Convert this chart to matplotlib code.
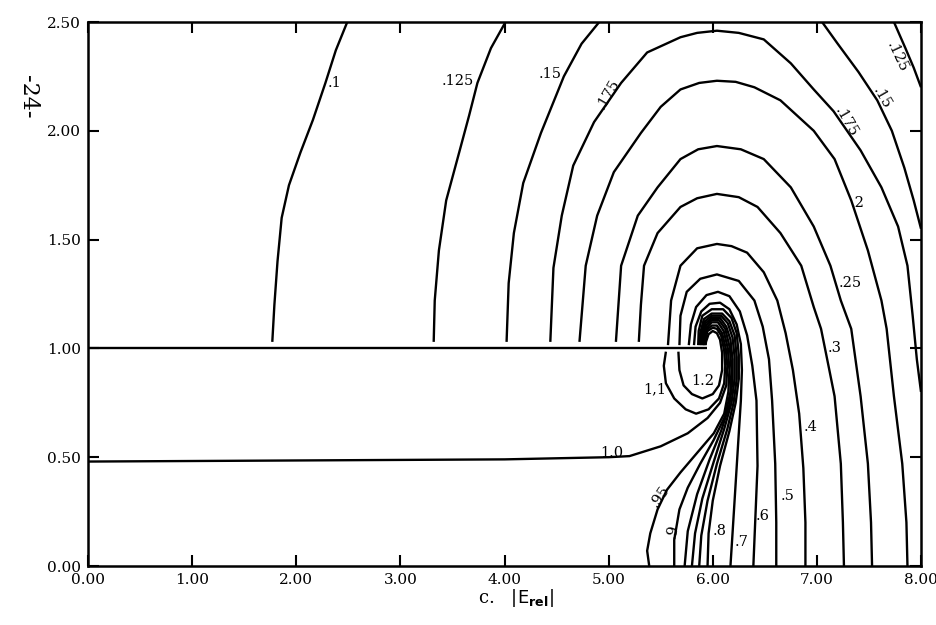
import matplotlib
matplotlib.use("Agg")
import matplotlib.pyplot as plt

# ---------------- data (x, y) ----------------
plate = [(0.0, 1.0), (5.94, 1.0)]

c_0100 = [(1.77, 1.03), (1.79, 1.2), (1.82, 1.4), (1.86, 1.6), (1.93, 1.75), (2.04, 1.9),
          (2.16, 2.05), (2.28, 2.22), (2.38, 2.37), (2.49, 2.5)]
c_0125_left = [(3.32, 1.03), (3.33, 1.22), (3.37, 1.45), (3.44, 1.68), (3.57, 1.91), (3.66, 2.07),
               (3.74, 2.22), (3.87, 2.38), (4.01, 2.5)]
c_0125_right = [(7.74, 2.5), (7.85, 2.38), (7.93, 2.29), (8.0, 2.2)]
c_0150_left = [(4.02, 1.03), (4.04, 1.3), (4.09, 1.53), (4.18, 1.76), (4.35, 1.99), (4.57, 2.25),
               (4.74, 2.4), (4.91, 2.5)]
c_0150_right = [(7.05, 2.5), (7.2, 2.4), (7.4, 2.27), (7.58, 2.14), (7.72, 2.0), (7.84, 1.83),
                (7.93, 1.68), (8.0, 1.55)]
c_0175 = [(4.44, 1.03), (4.47, 1.37), (4.55, 1.61), (4.66, 1.84), (4.86, 2.04), (5.12, 2.22),
          (5.37, 2.36), (5.69, 2.43), (5.85, 2.45), (6.04, 2.46), (6.25, 2.45), (6.49, 2.42),
          (6.75, 2.31), (6.97, 2.19), (7.16, 2.09), (7.42, 1.91), (7.62, 1.74), (7.78, 1.56),
          (7.87, 1.38), (7.92, 1.15), (7.96, 0.95), (8.0, 0.80)]
c_0200 = [(4.72, 1.03), (4.78, 1.38), (4.89, 1.61), (5.05, 1.81), (5.31, 1.99), (5.5, 2.11),
          (5.69, 2.19), (5.87, 2.22), (6.04, 2.23), (6.22, 2.225), (6.4, 2.2), (6.65, 2.14),
          (6.97, 2.0), (7.17, 1.87), (7.33, 1.68), (7.49, 1.45), (7.62, 1.22), (7.67, 1.09),
          (7.74, 0.78), (7.82, 0.47), (7.86, 0.2), (7.87, 0.0)]
c_0250 = [(5.07, 1.03), (5.12, 1.38), (5.28, 1.61), (5.47, 1.74), (5.69, 1.87), (5.86, 1.915),
          (6.04, 1.93), (6.27, 1.915), (6.49, 1.87), (6.75, 1.74), (6.97, 1.56), (7.13, 1.38),
          (7.23, 1.22), (7.33, 1.09), (7.42, 0.78), (7.49, 0.47), (7.52, 0.2), (7.53, 0.0)]
c_0300 = [(5.29, 1.03), (5.31, 1.2), (5.34, 1.38), (5.47, 1.53), (5.69, 1.65), (5.85, 1.69),
          (6.04, 1.71), (6.25, 1.695), (6.43, 1.65), (6.65, 1.53), (6.85, 1.38), (6.97, 1.19),
          (7.04, 1.09), (7.12, 0.9), (7.17, 0.78), (7.23, 0.47), (7.25, 0.2), (7.26, 0.0)]
c_0400 = [(5.57, 1.015), (5.6, 1.22), (5.69, 1.38), (5.85, 1.46), (6.04, 1.48), (6.18, 1.47),
          (6.33, 1.44), (6.49, 1.35), (6.62, 1.22), (6.7, 1.07), (6.77, 0.9), (6.83, 0.7),
          (6.87, 0.45), (6.89, 0.2), (6.89, 0.0)]
c_0500 = [(5.68, 1.015), (5.69, 1.15), (5.75, 1.26), (5.88, 1.32), (6.04, 1.34), (6.25, 1.31),
          (6.4, 1.22), (6.48, 1.1), (6.54, 0.95), (6.57, 0.76), (6.6, 0.47), (6.61, 0.2), (6.61, 0.0)]
c_0600 = [(5.77, 1.015), (5.79, 1.11), (5.84, 1.19), (5.94, 1.245), (6.05, 1.26), (6.16, 1.24),
          (6.26, 1.17), (6.33, 1.06), (6.38, 0.92), (6.42, 0.76), (6.43, 0.46), (6.41, 0.23), (6.39, 0.0)]
c_0700 = [(5.82, 1.015), (5.835, 1.1), (5.89, 1.17), (5.97, 1.205), (6.07, 1.21), (6.16, 1.18),
          (6.23, 1.11), (6.27, 1.02), (6.28, 0.9), (6.27, 0.76), (6.25, 0.61), (6.22, 0.38),
          (6.19, 0.15), (6.17, 0.0)]
c_0800 = [(5.86, 1.015), (5.865, 1.08), (5.9, 1.15), (5.99, 1.18), (6.1, 1.18), (6.18, 1.14),
          (6.23, 1.07), (6.25, 0.97), (6.25, 0.86), (6.22, 0.75), (6.16, 0.62), (6.07, 0.46),
          (6.0, 0.30), (5.96, 0.15), (5.95, 0.0)]
c_0825 = [(5.875, 1.015), (5.88, 1.07), (5.915, 1.135), (5.99, 1.16), (6.09, 1.16), (6.16, 1.125),
          (6.21, 1.06), (6.23, 0.96), (6.23, 0.86), (6.2, 0.75), (6.14, 0.63), (6.04, 0.47),
          (5.95, 0.30), (5.89, 0.14), (5.87, 0.0)]
c_0850 = [(5.885, 1.015), (5.89, 1.065), (5.925, 1.125), (5.99, 1.15), (6.08, 1.15), (6.145, 1.115),
          (6.19, 1.05), (6.21, 0.96), (6.21, 0.86), (6.18, 0.75), (6.11, 0.63), (6.01, 0.48),
          (5.9, 0.31), (5.83, 0.15), (5.80, 0.0)]
c_0875 = [(5.895, 1.015), (5.9, 1.06), (5.93, 1.115), (5.99, 1.14), (6.07, 1.14), (6.13, 1.10),
          (6.17, 1.04), (6.19, 0.95), (6.19, 0.85), (6.16, 0.74), (6.08, 0.62), (5.97, 0.49),
          (5.85, 0.33), (5.76, 0.16), (5.73, 0.0)]
c_0900 = [(5.905, 1.015), (5.91, 1.055), (5.935, 1.105), (5.99, 1.13), (6.06, 1.13), (6.12, 1.09),
          (6.165, 1.0), (6.18, 0.9), (6.17, 0.8), (6.12, 0.69), (6.01, 0.58), (5.88, 0.47),
          (5.76, 0.36), (5.68, 0.26), (5.63, 0.12), (5.63, 0.0)]
c_0950 = [(5.912, 1.015), (5.915, 1.05), (5.94, 1.095), (5.99, 1.12), (6.05, 1.12), (6.105, 1.08),
          (6.145, 1.0), (6.16, 0.9), (6.15, 0.8), (6.11, 0.7), (6.01, 0.61), (5.85, 0.52),
          (5.69, 0.43), (5.56, 0.35), (5.47, 0.26), (5.40, 0.15), (5.37, 0.07), (5.39, 0.0)]
c_1000 = [(0.0, 0.48), (2.0, 0.485), (4.0, 0.49), (5.0, 0.50), (5.2, 0.505), (5.5, 0.55),
          (5.76, 0.61), (5.95, 0.68), (6.07, 0.75), (6.13, 0.83), (6.14, 0.92), (6.125, 1.0),
          (6.09, 1.07), (6.04, 1.105), (5.99, 1.105), (5.94, 1.085), (5.918, 1.045), (5.918, 1.015)]
c_1100 = [(5.55, 0.985), (5.53, 0.92), (5.55, 0.84), (5.63, 0.77), (5.74, 0.72), (5.84, 0.70),
          (5.96, 0.72), (6.06, 0.77), (6.11, 0.84), (6.12, 0.92), (6.11, 0.99), (6.08, 1.06),
          (6.04, 1.09), (6.0, 1.095), (5.95, 1.08), (5.928, 1.04), (5.925, 1.015)]
c_1200 = [(5.67, 0.985), (5.68, 0.9), (5.72, 0.83), (5.8, 0.79), (5.9, 0.77), (6.0, 0.79),
          (6.06, 0.83), (6.09, 0.9), (6.09, 0.98), (6.07, 1.04), (6.04, 1.07), (6.0, 1.08),
          (5.96, 1.065), (5.935, 1.03), (5.932, 1.015)]

contours = [plate, c_0100, c_0125_left, c_0125_right, c_0150_left, c_0150_right, c_0175,
            c_0200, c_0250, c_0300, c_0400, c_0500, c_0600, c_0700, c_0800, c_0825,
            c_0850, c_0875, c_0900, c_0950, c_1000, c_1100, c_1200]

label_text = ['.1', '.125', '.15', '.175', '.175', '.15', '.125', '.2', '.25', '.3', '.4',
              '.5', '.6', '.7', '.8', '.9', '.95', '1.0', '1,1', '1.2']
label_x = [2.37, 3.55, 4.44, 5.00, 7.28, 7.62, 7.77, 7.39, 7.32, 7.17, 6.94,
           6.72, 6.48, 6.28, 6.07, 5.61, 5.49, 5.03, 5.44, 5.90]
label_y = [2.22, 2.23, 2.26, 2.17, 2.04, 2.15, 2.34, 1.67, 1.30, 1.00, 0.64,
           0.32, 0.23, 0.11, 0.16, 0.16, 0.32, 0.52, 0.81, 0.85]
label_rot = [0, 0, 0, 60, -60, -60, -65, 0, 0, 0, 0,
             0, 0, 0, 0, 75, 55, 0, 0, 0]

x_ticks = [0, 1, 2, 3, 4, 5, 6, 7, 8]
y_ticks = [0.0, 0.5, 1.0, 1.5, 2.0, 2.5]

# ---------------- figure ----------------
serif = ['DejaVu Serif']
fig = plt.figure(figsize=(9.36, 6.25), dpi=100)
ax = fig.add_axes([88 / 936, 59 / 625, 833 / 936, 544 / 625])
ax.set_xlim(0, 8)
ax.set_ylim(0, 2.5)

for seg in contours:
    xs = [p[0] for p in seg]
    ys = [p[1] for p in seg]
    ax.plot(xs, ys, color='black', lw=1.7, solid_joinstyle='round', solid_capstyle='butt')

for t, x, y, r in zip(label_text, label_x, label_y, label_rot):
    ax.text(x, y, t, rotation=r, ha='center', va='center', fontsize=10.5,
            family=serif, color='black', rotation_mode='anchor')

ax.set_xticks(x_ticks)
ax.set_xticklabels([f"{v:.2f}" for v in x_ticks], family=serif, fontsize=11)
ax.set_yticks(y_ticks)
ax.set_yticklabels([f"{v:.2f}" for v in y_ticks], family=serif, fontsize=11)
ax.tick_params(direction='in', length=8, width=1.5, top=True, right=True,
               labeltop=False, labelright=False, pad=5)
for s in ax.spines.values():
    s.set_linewidth(1.8)

fig.text(478 / 936, 1 - 603 / 625, r"c.   $|\mathrm{E}_{\mathbf{rel}}|$", ha='left',
         va='baseline', fontsize=13, family=serif)
fig.text(28 / 936, 1 - 97 / 625, "-24-", rotation=-90, ha='center', va='center',
         fontsize=16, family=serif)

fig.savefig("out.png", dpi=100)
